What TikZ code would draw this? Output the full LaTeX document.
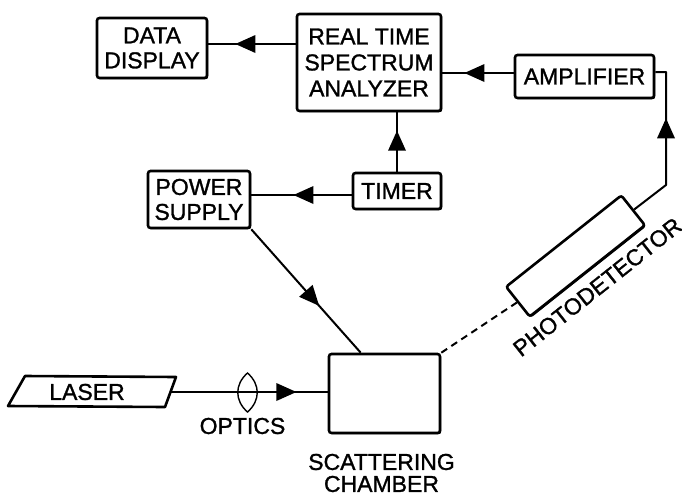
\documentclass[tikz,border=0pt]{standalone}
\usepackage{fontspec}
\setmainfont{Liberation Sans}[FakeBold=1.2]
\usetikzlibrary{decorations.markings,calc,shadows}
\begin{document}
\begin{tikzpicture}[x=1pt,y=-1pt,
  font=\fontsize{23}{25}\selectfont,
  box/.style={draw, line width=2.6pt, rounded corners=2.5pt, fill=white, align=center, inner sep=0pt,
     drop shadow={shadow xshift=1.2pt, shadow yshift=-1.2pt, opacity=1, fill=black}},
  conn/.style={line width=2pt},
  midarrow/.style={postaction={decorate}, decoration={markings, mark=at position #1 with {\fill (0pt,0pt) -- (-20pt,9pt) -- (-20pt,-9pt) -- cycle;}}}
]
\useasboundingbox (0,0) rectangle (682,498);

% boxes
\node[box, minimum width=110pt, minimum height=60pt] (data) at (152,48) {DATA\\DISPLAY};
\node[box, minimum width=144pt, minimum height=97pt] (rtsa) at (369,62.5) {REAL TIME\\[1pt]SPECTRUM\\[1pt]ANALYZER};
\node[box, minimum width=139pt, minimum height=43pt] (amp) at (584.5,76.5) {AMPLIFIER};
\node[box, minimum width=88pt, minimum height=36pt] (timer) at (397,191) {TIMER};
\node[box, minimum width=102pt, minimum height=57pt] (power) at (199,199.5) {POWER\\SUPPLY};
\node[box, minimum width=111pt, minimum height=79pt] (chamber) at (384.5,393.5) {};
\node[box, minimum width=147pt, minimum height=38pt, rotate=38.4] (pd) at (575.5,256) {};

% laser
\node (laser) at (87,392) {LASER};
\draw[line width=2.6pt, line join=round] (8,406) -- (25,376) -- (176,377) -- (165,407) -- cycle;
\coordinate (laserR) at (171,392);

% labels
\node (optics) at (242.5,426) {OPTICS};
\node[align=center] (sclabel) at (381.5,473) {SCATTERING\\[-3pt]CHAMBER};
\node[rotate=38.4] (pdlabel) at ($(pd.center)+(22,31)$) {PHOTODETECTOR};

% helper coordinates
\coordinate (h44) at (0,44);
\coordinate (h73) at (0,73);
\coordinate (h195) at (0,195);
\coordinate (c1) at (666,185);
\coordinate (c2) at (666,72);
\coordinate (chin) at ($(chamber.north west)+(33,0)$);

% connectors
\draw[conn, midarrow=0.69] (rtsa.west |- h44) -- (data.east |- h44);
\draw[conn, midarrow=0.69] (amp.west |- h73) -- (rtsa.east |- h73);
\draw[conn, midarrow=0.69] (timer.north) -- (timer.north |- rtsa.south);
\draw[conn, midarrow=0.58] (timer.west |- h195) -- (power.east |- h195);
\draw[conn, midarrow=0.62] (power.south east) -- (chin);
\draw[conn, midarrow=0.80] (laserR) -- (laserR -| chamber.west);
\node[inner sep=0pt, minimum size=0pt] (lens) at (247.5,392.5) {};
\draw[line width=1.4pt] ($(lens)+(0,-19.5)$) .. controls ($(lens)+(13,-8)$) and ($(lens)+(13,8)$) .. ($(lens)+(0,19.5)$)
   .. controls ($(lens)+(-13,8)$) and ($(lens)+(-13,-8)$) .. cycle;
\draw[conn, dash pattern=on 7pt off 5pt] (chamber.north east) -- (pd.west);
\draw[conn, line join=round] (pd.east) -- (c1) -- (c2) -- (amp.east |- c2);
\draw[conn, midarrow=0.59] (c1) -- (c2);
\end{tikzpicture}
\end{document}
